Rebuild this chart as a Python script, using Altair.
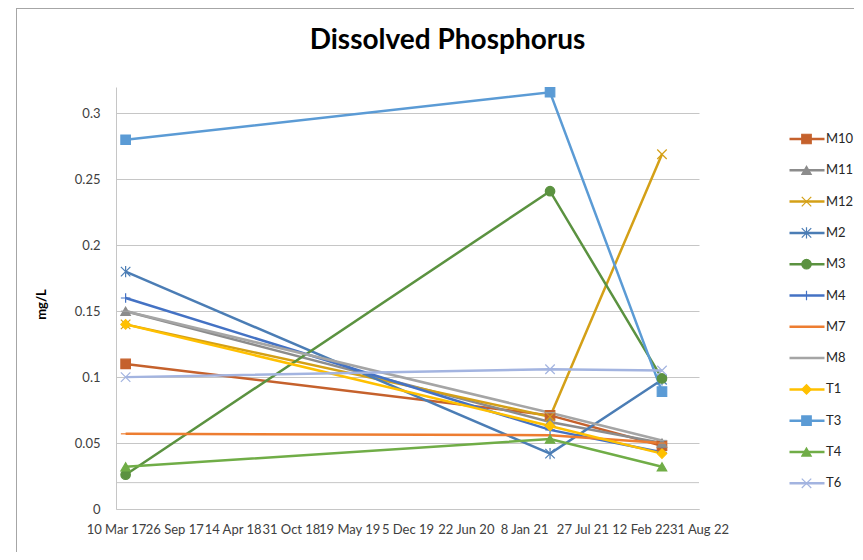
import altair as alt
import pandas as pd
from datetime import date

# ---- data ----
series = ["M10", "M11", "M12", "M2", "M3", "M4", "M7", "M8", "T1", "T3", "T4", "T6"]
sample_dates = ["2017/04/12", "2021/04/07", "2022/04/26"]

M10 = [0.110, 0.071, 0.048]
M11 = [0.150, 0.066, 0.050]
M12 = [0.140, 0.070, 0.269]
M2 = [0.180, 0.042, 0.098]
M3 = [0.026, 0.241, 0.099]
M4 = [0.160, 0.060, 0.043]
M7 = [0.057, 0.056, 0.050]
M8 = [0.150, 0.073, 0.052]
T1 = [0.140, 0.063, 0.042]
T3 = [0.280, 0.316, 0.089]
T4 = [0.032, 0.053, 0.032]
T6 = [0.100, 0.106, 0.105]
values = {"M10": M10, "M11": M11, "M12": M12, "M2": M2, "M3": M3, "M4": M4,
          "M7": M7, "M8": M8, "T1": T1, "T3": T3, "T4": T4, "T6": T6}

x_tick_dates = ["2017-03-10", "2017-09-26", "2018-04-14", "2018-10-31", "2019-05-19",
                "2019-12-05", "2020-06-22", "2021-01-08", "2021-07-27", "2022-02-12",
                "2022-08-31"]
y_ticks = [0, 0.05, 0.1, 0.15, 0.2, 0.25, 0.3]
limit_line = [0.02]

colors = ["#C5612C", "#8C8C8C", "#D4A017", "#4B7DB5", "#5B9240", "#4472C4",
          "#ED7D31", "#A5A5A5", "#FFC000", "#5B9BD5", "#70AD47", "#A3B4E0"]

X_PATH = "M-1,-1L1,1M-1,1L1,-1"
AST_PATH = "M-1,-1L1,1M-1,1L1,-1M0,-1.2L0,1.2"
PLUS_PATH = "M0,-1L0,1M-1,0L1,0"
DASH_PATH = "M-1,0L1,0"
shapes = ["square", "triangle-up", X_PATH, AST_PATH, "circle", PLUS_PATH,
          DASH_PATH, DASH_PATH, "diamond", "square", "triangle-up", X_PATH]

# ---- build table ----
rows = []
for s in series:
    for d, v in zip(sample_dates, values[s]):
        rows.append({"series": s, "series_p": s, "date": d, "value": v})
df = pd.DataFrame(rows)


def dt(s):
    d = date.fromisoformat(s)
    return alt.DateTime(year=d.year, month=d.month, date=d.day)


tick_vals = [dt(s) for s in x_tick_dates]
FONT = "Lato"
TXT = "#404040"
GRID = "#C6C6C6"

x_enc = alt.X(
    "date:T",
    scale=alt.Scale(domain=[dt(x_tick_dates[0]), dt(x_tick_dates[-1])]),
    axis=alt.Axis(values=tick_vals, format="%-d %b %y", labelOverlap=False,
                  labelFlush=False, grid=False, ticks=False, tickSize=0,
                  domainColor=GRID, labelPadding=14, labelFontSize=13,
                  labelColor=TXT, title=None),
)
y_enc = alt.Y(
    "value:Q",
    scale=alt.Scale(domain=[0, 0.32], nice=False),
    axis=alt.Axis(values=y_ticks, format="~g", grid=True, gridColor=GRID,
                  ticks=False, tickSize=0, domainColor=GRID, labelPadding=16,
                  labelFontSize=13, labelColor=TXT, title="mg/L",
                  titleFontSize=13, titleFontWeight="bold", titleColor="#000000",
                  titleX=-68, titleY=217),
)

line_legend = alt.Legend(orient="none", legendX=672, legendY=42, direction="vertical",
                         title=None, symbolType="stroke", symbolSize=1225,
                         symbolStrokeWidth=2.5, clipHeight=20, rowPadding=11.3,
                         labelFontSize=13, labelColor="#262626", labelOffset=0,
                         padding=0)
point_legend = alt.Legend(orient="none", legendX=685, legendY=42, direction="vertical",
                          title=None, symbolSize=90, symbolStrokeWidth=1.2,
                          clipHeight=20, rowPadding=11.3, labelExpr="''",
                          padding=0)

lines = alt.Chart(df).mark_line(strokeWidth=2.5).encode(
    x=x_enc, y=y_enc,
    color=alt.Color("series:N", scale=alt.Scale(range=colors), legend=line_legend),
)
points = alt.Chart(df).mark_point(filled=True, size=90, strokeWidth=1.2, opacity=1).encode(
    x=x_enc, y=y_enc,
    fill=alt.Fill("series_p:N", scale=alt.Scale(range=colors), legend=point_legend),
    stroke=alt.Stroke("series_p:N", scale=alt.Scale(range=colors), legend=point_legend),
    shape=alt.Shape("series_p:N", scale=alt.Scale(range=shapes), legend=point_legend),
)

limit = alt.Chart(pd.DataFrame({"v": limit_line})).mark_rule(color=GRID, strokeWidth=1).encode(
    y=alt.Y("v:Q")
)

one = pd.DataFrame({"a": [0]})
border_top = alt.Chart(one).mark_rule(color="#A6A6A6", strokeWidth=1).encode(
    x=alt.value(-99), x2=alt.value(750), y=alt.value(-78.5))
border_left = alt.Chart(one).mark_rule(color="#A6A6A6", strokeWidth=1).encode(
    x=alt.value(-99.5), y=alt.value(-79), y2=alt.value(470))

chart = alt.layer(border_top, border_left, limit, lines, points).resolve_scale(
    color="independent"
).properties(
    width=583,
    height=422,
    autosize="none",
    padding={"left": 108, "top": 79, "right": 155, "bottom": 43},
    title=alt.Title("Dissolved Phosphorus", fontSize=28, fontWeight="bold",
                    color="#000000", anchor="middle", frame="group", dx=40,
                    offset=-47, font=FONT),
    background="white",
).configure(font=FONT).configure_view(stroke=None)

chart.save("out.html", embed_options={"renderer": "svg", "actions": False})
